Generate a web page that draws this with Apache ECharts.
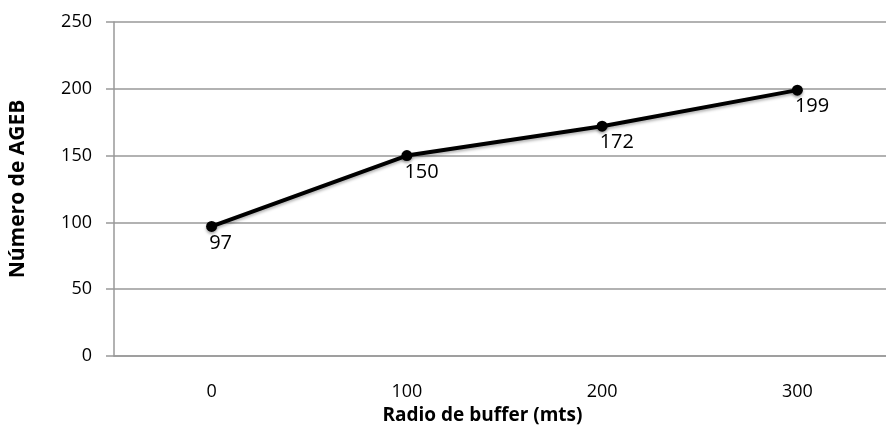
<!DOCTYPE html>
<html>
<head>
<meta charset="utf-8">
<script src="https://cdn.jsdelivr.net/npm/echarts@6/dist/echarts.min.js"></script>
<style>
  html, body { margin: 0; padding: 0; background: #fff; overflow: hidden; }
  #chart { width: 895px; height: 441px; }
</style>
</head>
<body>
<div id="chart"></div>
<script>
// Buffer radius categories (metres) and AGEB counts
const radios = ['0', '100', '200', '300'];
const numeroAgeb = [97, 150, 172, 199];
const yTicks = { min: 0, max: 250, step: 50 };

const fontFam = '"Open Sans", "Noto Sans", sans-serif';
const chart = echarts.init(document.getElementById('chart'));
chart.setOption({
  animation: false,
  grid: { left: 107, right: 0, top: 22, bottom: 85 },
  xAxis: {
    type: 'category',
    data: radios,
    boundaryGap: true,
    name: 'Radio de buffer (mts)',
    nameLocation: 'middle',
    nameGap: 50,
    nameTextStyle: { fontFamily: fontFam, fontWeight: 'bold', fontSize: 19, color: '#000', padding: [0, 44, 0, 0] },
    axisLine: { lineStyle: { color: '#999', width: 1.5 } },
    axisTick: { show: false },
    axisLabel: { margin: 27, fontFamily: fontFam, fontSize: 18, color: '#000' }
  },
  yAxis: {
    type: 'value',
    min: yTicks.min,
    max: yTicks.max,
    interval: yTicks.step,
    name: 'Número de AGEB',
    nameLocation: 'middle',
    nameGap: 85,
    nameTextStyle: { fontFamily: fontFam, fontWeight: 'bold', fontSize: 21, color: '#000' },
    axisLine: { show: true, lineStyle: { color: '#999', width: 1.5 } },
    axisTick: { show: true, length: 8, lineStyle: { color: '#999', width: 1.5 } },
    axisLabel: { margin: 22, fontFamily: fontFam, fontSize: 18, color: '#000' },
    splitLine: { lineStyle: { color: '#999', width: 1.5 } }
  },
  series: [{
    type: 'line',
    data: numeroAgeb,
    symbol: 'circle',
    symbolSize: 11,
    itemStyle: { color: '#000', shadowColor: 'rgba(0,0,0,0.35)', shadowBlur: 3, shadowOffsetY: 2 },
    lineStyle: { color: '#000', width: 4, shadowColor: 'rgba(0,0,0,0.3)', shadowBlur: 3, shadowOffsetY: 2 },
    label: {
      show: true,
      position: [3, 12],
      align: 'left',
      verticalAlign: 'top',
      fontFamily: fontFam,
      fontSize: 20,
      color: '#000'
    }
  }]
});
</script>
</body>
</html>
